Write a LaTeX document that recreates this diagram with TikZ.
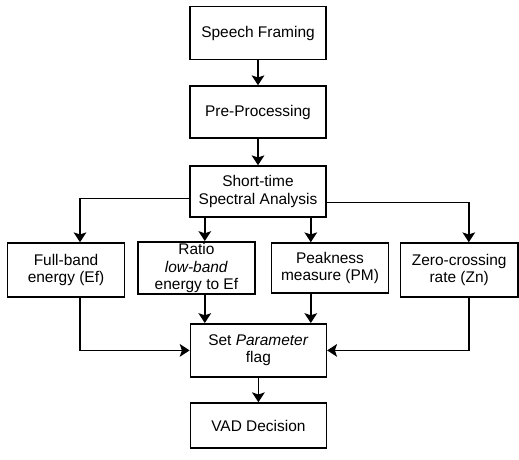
\documentclass[tikz,border=0pt]{standalone}
\usepackage{fontspec}
\setmainfont{Liberation Sans}
\usetikzlibrary{arrows.meta, positioning}

\begin{document}
\begin{tikzpicture}[
  blk/.style={draw, line width=1.1pt, minimum width=3.4cm, minimum height=1.33cm,
              inner sep=1pt, align=center, font=\fontsize{11}{12.5}\selectfont},
  par/.style={blk, minimum width=2.93cm, minimum height=1.3cm},
  arr/.style={-{Stealth[length=7pt, width=9pt, inset=1.5pt]}, line width=1.1pt}
]
  \useasboundingbox (0,0) rectangle (12.975,-11.475);

  % Main chain
  \node[blk] (frame) at (6.45,-0.825) {Speech Framing};
  \node[blk, minimum height=1.3cm] (pre) at (6.45,-2.8) {Pre-Processing};
  \node[blk, minimum height=1.28cm] (stft) at (6.45,-4.79) {Short-time\\Spectral Analysis};

  % Parameters
  \node[par, minimum height=1.35cm] (full) at (1.65,-6.75) {Full-band\\energy (Ef)};
  \node[par, minimum height=1.25cm] (ratio) at (4.91,-6.7) {Ratio\\\textit{low-band}\\energy to Ef};
  \node[par, minimum height=1.25cm] (peak) at (8.25,-6.7) {Peakness\\measure (PM)};
  \node[par, minimum height=1.35cm] (zcr) at (11.48,-6.75) {Zero-crossing\\rate (Zn)};

  % Decision
  \node[blk] (setp) at (6.46,-8.76) {Set \textit{Parameter}\\flag};
  \node[blk, minimum height=1.13cm] (vad) at (6.46,-10.64) {VAD Decision};

  % Connection points
  \coordinate (cf) at (2.0,0);
  \coordinate (cr) at (5.12,0);
  \coordinate (cp) at (7.77,0);
  \coordinate (cz) at (11.72,0);

  % Arrows
  \draw[arr] (frame) -- (pre);
  \draw[arr] (pre) -- (stft);
  \draw[arr] ([yshift=-0.17cm]stft.west) -| (full.north -| cf);
  \draw[arr] (stft.south -| cr) -- (ratio.north -| cr);
  \draw[arr] (stft.south -| cp) -- (peak.north -| cp);
  \draw[arr] ([yshift=-0.27cm]stft.east) -| (zcr.north -| cz);
  \draw[arr] (full.south -| cf) |- (setp.west);
  \draw[arr] (ratio.south -| cr) -- (setp.north -| cr);
  \draw[arr] (peak.south -| cp) -- (setp.north -| cp);
  \draw[arr] (zcr.south -| cz) |- (setp.east);
  \draw[arr] (setp) -- (vad);
\end{tikzpicture}
\end{document}
